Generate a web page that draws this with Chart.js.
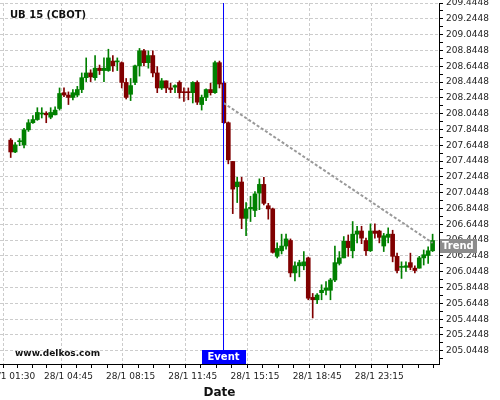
<!DOCTYPE html>
<html lang="en">
<head>
<meta charset="UTF-8">
<title>UB 15 (CBOT)</title>
<script src="https://cdn.jsdelivr.net/npm/chart.js@4.4.1/dist/chart.umd.min.js"></script>
<style>
  body { margin: 0; background: #fff; }
  #wrap { width: 500px; height: 400px; }
</style>
</head>
<body>
<div id="wrap"><canvas id="chart" width="500" height="400"></canvas></div>
<script>
// candles, one per bar index
const open = [207.71,207.56,207.69,207.65,207.84,207.93,207.97,208.04,208.05,208.00,
  208.03,208.11,208.31,208.28,208.25,208.28,208.35,208.50,208.56,208.50,
  208.62,208.59,208.59,208.71,208.70,208.69,208.44,208.29,208.44,208.65,
  208.84,208.69,208.78,208.56,208.37,208.46,208.37,208.38,208.44,208.32,
  208.32,208.31,208.44,208.16,208.25,208.35,208.31,208.69,208.43,207.93,
  207.44,207.12,207.18,206.72,206.84,206.82,207.04,207.15,206.88,206.84,
  206.24,206.31,206.37,206.44,206.03,206.12,206.12,206.22,205.72,205.69,
  205.78,205.81,205.81,205.94,206.15,206.22,206.43,206.31,206.52,206.56,
  206.44,206.31,206.56,206.56,206.37,206.48,206.52,206.24,206.10,206.10,
  206.16,206.09,206.09,206.22,206.25,206.31];
const high = [207.73,207.68,207.73,207.86,207.97,208.02,208.12,208.12,208.07,208.12,
  208.13,208.37,208.37,208.32,208.35,208.39,208.56,208.75,208.60,208.78,
  208.66,208.75,208.86,208.78,208.75,208.70,208.49,208.49,208.66,208.87,
  208.86,208.84,208.84,208.64,208.49,208.46,208.43,208.41,208.46,208.37,
  208.37,208.45,208.46,208.28,208.36,208.43,208.71,208.71,208.45,207.94,
  207.44,207.24,207.24,206.92,207.00,207.06,207.22,207.24,206.91,206.85,
  206.41,206.52,206.52,206.46,206.17,206.19,206.30,206.23,205.77,205.77,
  205.88,205.92,205.96,206.37,206.30,206.49,206.51,206.68,206.62,206.62,
  206.47,206.65,206.65,206.57,206.53,206.60,206.57,206.28,206.17,206.17,
  206.28,206.12,206.24,206.32,206.36,206.52];
const low = [207.49,207.55,207.64,207.61,207.82,207.92,207.96,207.99,207.93,207.98,
  208.03,208.09,208.26,208.16,208.22,208.26,208.31,208.45,208.45,208.47,
  208.54,208.45,208.58,208.58,208.59,208.37,208.23,208.21,208.41,208.52,
  208.65,208.62,208.51,208.31,208.35,208.31,208.31,208.31,208.24,208.20,
  208.22,208.18,208.16,208.09,208.21,208.28,208.30,208.37,207.92,207.41,
  206.78,206.92,206.59,206.50,206.68,206.74,206.83,206.89,206.71,206.28,
  206.22,206.27,206.33,205.98,205.93,205.98,206.07,205.69,205.46,205.64,
  205.69,205.75,205.69,205.92,206.13,206.22,206.24,206.22,206.41,206.40,
  206.25,206.30,206.47,206.41,206.30,206.41,206.17,206.03,205.96,206.05,
  206.07,206.03,206.09,206.13,206.15,206.30];
const close = [207.56,207.65,207.70,207.84,207.93,207.97,208.06,208.05,208.03,208.06,
  208.09,208.30,208.28,208.25,208.31,208.35,208.50,208.56,208.51,208.62,
  208.59,208.62,208.75,208.65,208.71,208.44,208.25,208.40,208.65,208.84,
  208.69,208.78,208.56,208.37,208.46,208.37,208.35,208.40,208.31,208.31,
  208.31,208.44,208.19,208.25,208.35,208.31,208.69,208.42,207.93,207.46,
  207.09,207.18,206.72,206.84,206.86,207.03,207.15,206.91,206.84,206.29,
  206.34,206.37,206.46,206.03,206.12,206.16,206.17,205.71,205.69,205.75,
  205.81,205.84,205.94,206.16,206.22,206.43,206.35,206.52,206.56,206.47,
  206.31,206.56,206.53,206.48,206.50,206.52,206.24,206.06,206.11,206.12,
  206.10,206.06,206.22,206.26,206.31,206.44];

const xTickIdx = [0, 13, 27, 41, 55, 69, 83];
const xLabels = ['28/1 01:30', '28/1 04:45', '28/1 08:15', '28/1 11:45', '28/1 15:15', '28/1 18:45', '28/1 23:15'];
const yLabels = [205.0448, 205.2448, 205.4448, 205.6448, 205.8448, 206.0448, 206.2448, 206.4448,
  206.6448, 206.8448, 207.0448, 207.2448, 207.4448, 207.6448, 207.8448, 208.0448, 208.2448,
  208.4448, 208.6448, 208.8448, 209.0448, 209.2448, 209.4448];

const eventIdx = 47.92;
const trendIdx = [47.92, 95];
const trendVal = [208.18, 206.41];

const title = 'UB 15 (CBOT)';
const watermark = 'www.delkos.com';

const UP = '#008000', DOWN = '#800000';
const colors = open.map((o, i) => close[i] >= o ? UP : DOWN);
const idx = open.map((o, i) => i);

const FONT = '"DejaVu Sans", Verdana, sans-serif';

// x ticks: majors plus quarter minors
function xTicks() {
  const t = [];
  const ends = xTickIdx.concat([xTickIdx[xTickIdx.length - 1] + 14]);
  for (let k = 0; k < xTickIdx.length; k++) {
    const a = ends[k], b = ends[k + 1];
    t.push({ value: a, major: true });
    for (let q = 1; q < 4; q++) t.push({ value: a + (b - a) * q / 4, major: false });
  }
  return t;
}
function yTicks() {
  const t = [];
  yLabels.forEach(v => {
    t.push({ value: v - 0.1, major: false });
    t.push({ value: v, major: true });
  });
  return t;
}

const overlay = {
  id: 'overlay',
  afterDraw(chart) {
    const { ctx, chartArea, scales: { x, y } } = chart;
    ctx.save();
    ctx.textBaseline = 'middle';
    ctx.textAlign = 'left';
    ctx.fillStyle = '#111';
    ctx.font = 'bold 10px ' + FONT;
    ctx.fillText(title, 10, 15);
    ctx.font = 'bold 9px ' + FONT;
    ctx.fillText(watermark, 15, 354);

    // event label
    const ex = x.getPixelForValue(eventIdx);
    ctx.fillStyle = '#0000ff';
    ctx.fillRect(Math.round(ex - 22), chartArea.bottom - 14, 44, 14);
    ctx.fillStyle = '#fff';
    ctx.font = 'bold 10px ' + FONT;
    ctx.textAlign = 'center';
    ctx.fillText('Event', ex, chartArea.bottom - 6.5);

    // trend label
    const ty = Math.round(y.getPixelForValue(trendVal[1]) + 3);
    ctx.fillStyle = '#8c8c8c';
    ctx.fillRect(chartArea.right + 1, ty - 7, 37, 14);
    ctx.fillStyle = '#fff';
    ctx.textAlign = 'left';
    ctx.fillText('Trend', chartArea.right + 3, ty + 0.5);
    ctx.restore();
  }
};

new Chart(document.getElementById('chart'), {
  type: 'bar',
  data: {
    datasets: [
      {
        type: 'line',
        data: [{ x: eventIdx, y: 204.5 }, { x: eventIdx, y: 209.8 }],
        borderColor: '#0000ff',
        borderWidth: 1,
        pointRadius: 0,
        order: 0
      },
      {
        type: 'line',
        data: trendIdx.map((v, i) => ({ x: v, y: trendVal[i] })),
        borderColor: '#999999',
        borderWidth: 2,
        borderDash: [3, 2],
        pointRadius: 0,
        order: 1
      },
      {
        data: idx.map(i => ({ x: i, y: [open[i], close[i]] })),
        backgroundColor: colors,
        barThickness: 4,
        minBarLength: 1,
        grouped: false,
        order: 2
      },
      {
        data: idx.map(i => ({ x: i, y: [low[i], high[i]] })),
        backgroundColor: colors,
        barThickness: 1,
        grouped: false,
        order: 3
      }
    ]
  },
  options: {
    responsive: false,
    animation: false,
    layout: { padding: { top: 3, left: 0, right: 0, bottom: 0 } },
    plugins: { legend: { display: false }, tooltip: { enabled: false } },
    scales: {
      x: {
        type: 'linear',
        offset: false,
        min: -2.41,
        max: 96.44,
        afterBuildTicks: s => { s.ticks = xTicks(); },
        afterFit: s => { s.height = 36; s.paddingLeft = 0; s.paddingRight = 0; },
        ticks: {
          autoSkip: false,
          maxRotation: 0,
          padding: 3,
          color: '#222',
          font: { family: FONT, size: 9 },
          callback: v => {
            const k = xTickIdx.indexOf(v);
            return k >= 0 ? xLabels[k] : '';
          }
        },
        grid: {
          color: c => (c.tick && c.tick.major) ? '#cccccc' : 'rgba(0,0,0,0)',
          tickColor: '#000',
          tickLength: 4,
          lineWidth: 1
        },
        border: { display: true, color: '#000', width: 1, dash: [3, 2] },
        title: {
          display: true,
          text: 'Date',
          color: '#111',
          font: { family: FONT, size: 12, weight: 'bold' },
          padding: { top: 4, bottom: 0 }
        }
      },
      y: {
        position: 'right',
        min: 204.8775,
        max: 209.4448,
        afterBuildTicks: s => { s.ticks = yTicks(); },
        afterFit: s => { s.width = 61; s.paddingTop = 0; s.paddingBottom = 0; },
        ticks: {
          autoSkip: false,
          padding: 3,
          color: '#222',
          font: { family: FONT, size: 9 },
          callback: (v, i, t) => t[i].major ? v.toFixed(4) : ''
        },
        grid: {
          color: c => (c.tick && c.tick.major) ? '#cccccc' : 'rgba(0,0,0,0)',
          tickColor: '#000',
          tickLength: 4,
          lineWidth: 1
        },
        border: { display: true, color: '#000', width: 1, dash: [3, 2] }
      }
    }
  },
  plugins: [overlay]
});
</script>
</body>
</html>
